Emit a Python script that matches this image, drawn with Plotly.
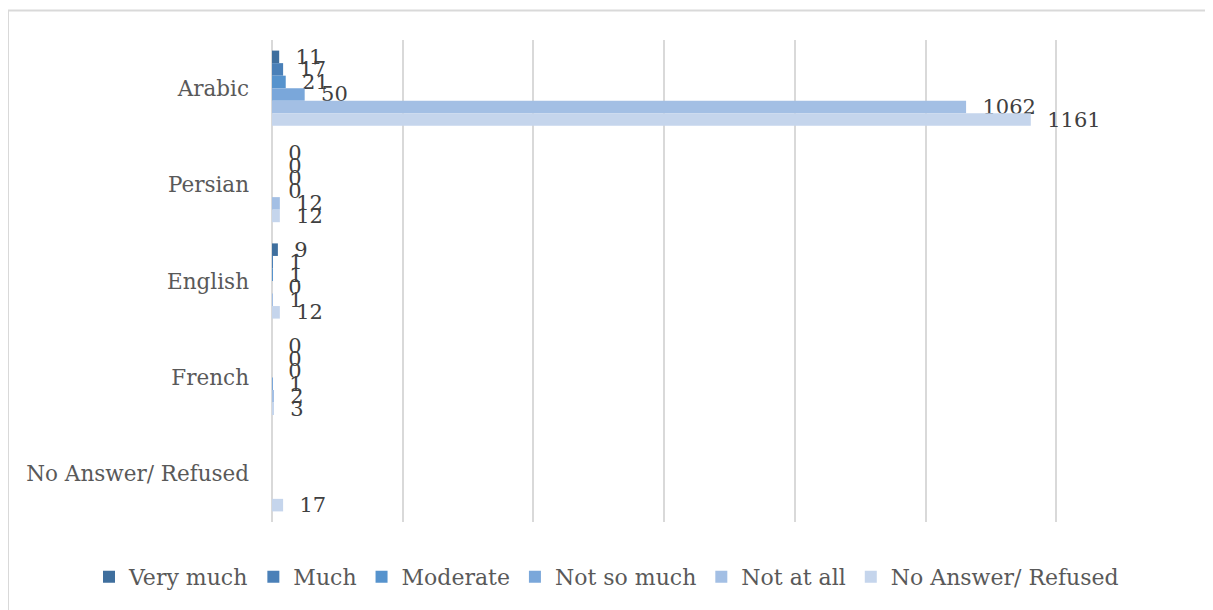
import plotly.graph_objects as go

languages = ["Arabic", "Persian", "English", "French", "No Answer/ Refused"]
series = ["Very much", "Much", "Moderate", "Not so much", "Not at all", "No Answer/ Refused"]
very_much = [11, 0, 9, 0, None]
much = [17, 0, 1, 0, None]
moderate = [21, 0, 1, 0, None]
not_so_much = [50, 0, 0, 1, None]
not_at_all = [1062, 12, 1, 2, None]
no_answer = [1161, 12, 12, 3, 17]
values = [very_much, much, moderate, not_so_much, not_at_all, no_answer]
colors = ["#3F6F9E", "#4A80B8", "#5693CD", "#7AA7DA", "#A3BFE4", "#C5D5EC"]

font_name = "DejaVu Serif"
pad = "\u00a0\u00a0"

fig = go.Figure()
for name, vals, col in zip(series, values, colors):
    fig.add_trace(go.Bar(
        y=languages, x=vals, name=name, orientation="h",
        marker=dict(color=col, line=dict(width=0)),
        text=[("" if v is None else pad + str(v)) for v in vals],
        textposition="outside", cliponaxis=False, constraintext="none",
        textfont=dict(family=font_name, size=21, color="#404040"),
    ))

# plot area: 264..1179 x 32..514 (figure px), 915 x 482
fig.update_layout(
    width=1213, height=610, barmode="group", bargap=0.22, bargroupgap=0,
    plot_bgcolor="white", paper_bgcolor="white",
    margin=dict(l=264, r=34, t=32, b=96),
    font=dict(family=font_name, size=21, color="#595959"),
    legend=dict(orientation="h", x=-0.2, xanchor="left",
                y=-0.114, yanchor="middle",
                font=dict(family=font_name, size=22, color="#595959"),
                itemwidth=30, traceorder="normal"),
    shapes=[dict(type="rect", xref="paper", yref="paper",
                 x0=-264 / 915, x1=1.2, y0=-0.5, y1=1 + 29.5 / 482,
                 line=dict(color="#D9D9D9", width=2))],
)
fig.update_xaxes(range=[0, 1400], dtick=200, showticklabels=False, showgrid=True,
                 gridcolor="#D9D9D9", gridwidth=1.5, zeroline=True,
                 zerolinecolor="#D9D9D9", zerolinewidth=2)
fig.update_yaxes(autorange="reversed", showgrid=False, ticks="", ticklabelstandoff=22,
                 automargin=False,
                 tickfont=dict(family=font_name, size=21.5, color="#595959"))

fig.write_html("out.html")
